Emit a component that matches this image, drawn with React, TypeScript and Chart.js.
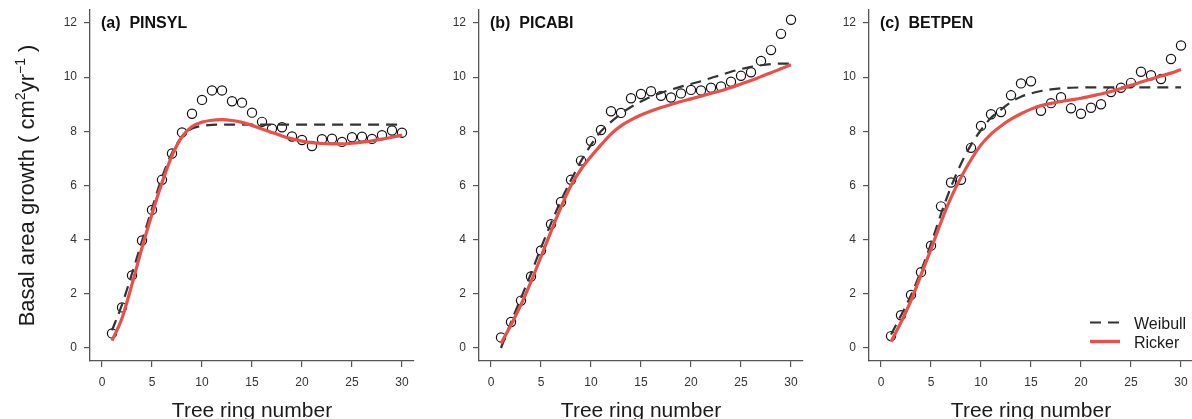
import React, { useEffect, useRef } from "react";
import { Chart, registerables } from "chart.js";

Chart.register(...registerables);

// ---------- data ----------
const rings = [1, 2, 3, 4, 5, 6, 7, 8, 9, 10, 11, 12, 13, 14, 15, 16, 17, 18, 19, 20, 21, 22, 23, 24, 25, 26, 27, 28, 29, 30];
const xTicks = [0, 5, 10, 15, 20, 25, 30];
const yTicks = [0, 2, 4, 6, 8, 10, 12];

const pinsylObserved = [0.54, 1.5, 2.68, 3.97, 5.1, 6.21, 7.18, 7.96, 8.65, 9.16, 9.51, 9.51, 9.11, 9.06, 8.69, 8.35, 8.1, 8.15, 7.81, 7.68, 7.46, 7.71, 7.73, 7.61, 7.78, 7.8, 7.72, 7.86, 8.03, 7.95];
const pinsylWeibull = [0.65, 1.6, 2.75, 3.95, 5.15, 6.3, 7.2, 7.8, 8.1, 8.2, 8.24, 8.25, 8.25, 8.25, 8.25, 8.25, 8.25, 8.25, 8.25, 8.25, 8.25, 8.25, 8.25, 8.25, 8.25, 8.25, 8.25, 8.25, 8.25, 8.25];
const pinsylRicker = [0.27, 1.1, 2.35, 3.7, 4.95, 6.1, 7.1, 7.8, 8.18, 8.34, 8.41, 8.43, 8.4, 8.33, 8.22, 8.09, 7.96, 7.83, 7.72, 7.64, 7.58, 7.55, 7.54, 7.54, 7.56, 7.6, 7.65, 7.71, 7.78, 7.86];

const picabiObserved = [0.39, 0.96, 1.75, 2.64, 3.6, 4.57, 5.39, 6.21, 6.92, 7.64, 8.05, 8.74, 8.68, 9.22, 9.38, 9.48, 9.31, 9.25, 9.4, 9.53, 9.51, 9.61, 9.66, 9.83, 10.05, 10.18, 10.6, 11.0, 11.6, 12.12];
const picabiWeibull = [0.0, 0.95, 1.85, 2.75, 3.7, 4.6, 5.45, 6.2, 6.9, 7.5, 8.0, 8.35, 8.65, 8.9, 9.1, 9.28, 9.42, 9.54, 9.65, 9.75, 9.85, 9.97, 10.08, 10.2, 10.3, 10.38, 10.44, 10.48, 10.5, 10.5];
const picabiRicker = [0.17, 0.85, 1.6, 2.45, 3.37, 4.3, 5.2, 6.0, 6.6, 7.07, 7.5, 7.9, 8.2, 8.42, 8.6, 8.75, 8.88, 8.99, 9.1, 9.2, 9.3, 9.4, 9.5, 9.62, 9.75, 9.88, 10.02, 10.16, 10.31, 10.46];

const betpenObserved = [0.44, 1.21, 1.96, 2.8, 3.78, 5.23, 6.11, 6.21, 7.39, 8.2, 8.63, 8.71, 9.33, 9.77, 9.85, 8.76, 9.04, 9.26, 8.85, 8.65, 8.87, 9.0, 9.45, 9.61, 9.79, 10.2, 10.07, 9.93, 10.67, 11.17];
const betpenWeibull = [0.5, 1.2, 1.95, 2.85, 3.85, 4.95, 5.95, 6.8, 7.5, 8.05, 8.5, 8.8, 9.08, 9.28, 9.4, 9.49, 9.55, 9.59, 9.61, 9.62, 9.62, 9.62, 9.62, 9.62, 9.62, 9.62, 9.62, 9.62, 9.62, 9.62];
const betpenRicker = [0.23, 0.95, 1.75, 2.7, 3.65, 4.65, 5.55, 6.3, 6.95, 7.5, 7.9, 8.2, 8.45, 8.65, 8.82, 8.95, 9.03, 9.1, 9.16, 9.22, 9.3, 9.38, 9.47, 9.58, 9.7, 9.82, 9.93, 10.04, 10.15, 10.28];

const panelTitles = ["(a)  PINSYL", "(b)  PICABI", "(c)  BETPEN"];
const xAxisTitle = "Tree ring number";
const yAxisTitleParts = ["Basal area growth ( cm", "2", "yr", "\u22121", " )"];
const legendLabels = ["Weibull", "Ricker"];

// ---------- styles ----------
const FONT = '"Liberation Sans", Arial, Helvetica, sans-serif';
const RED = "#E8504A";
const DARK = "#333333";
const AXIS = "#555555";
const CANVAS_W = 420;
const CANVAS_H = 419;

type PanelProps = {
  idx: number;
  left: number;
  observed: number[];
  weibull: number[];
  ricker: number[];
  showYTitle: boolean;
  showLegend: boolean;
};

function Panel({ idx, left, observed, weibull, ricker, showYTitle, showLegend }: PanelProps) {
  const ref = useRef<HTMLCanvasElement | null>(null);

  useEffect(() => {
    if (!ref.current) return;
    const textPlugin = {
      id: "panelText" + idx,
      afterDraw(chart: any) {
        const ctx = chart.ctx as CanvasRenderingContext2D;
        const area = chart.chartArea;
        ctx.save();
        ctx.fillStyle = "#111";
        // panel title
        ctx.font = `bold 16px ${FONT}`;
        ctx.textAlign = "left";
        ctx.textBaseline = "alphabetic";
        ctx.fillText(panelTitles[idx], area.left + 11, 28);
        // x axis title
        ctx.font = `21px ${FONT}`;
        ctx.textAlign = "center";
        ctx.fillStyle = "#1a1a1a";
        ctx.fillText(xAxisTitle, (area.left + area.right) / 2, 417);
        // y axis title
        if (showYTitle) {
          const big = `22px ${FONT}`;
          const small = `14px ${FONT}`;
          let total = 0;
          const widths: number[] = [];
          yAxisTitleParts.forEach((p, i) => {
            ctx.font = i === 1 || i === 3 ? small : big;
            const w = ctx.measureText(p).width;
            widths.push(w);
            total += w;
          });
          ctx.translate(34, (area.top + area.bottom) / 2);
          ctx.rotate(-Math.PI / 2);
          ctx.textAlign = "left";
          let x = -total / 2;
          yAxisTitleParts.forEach((p, i) => {
            const sup = i === 1 || i === 3;
            ctx.font = sup ? small : big;
            ctx.fillText(p, x, sup ? -9 : 0);
            x += widths[i];
          });
          ctx.setTransform(1, 0, 0, 1, 0, 0);
        }
        // legend
        if (showLegend) {
          const lx0 = 1090 - left;
          const lx1 = 1120 - left;
          ctx.lineCap = "butt";
          ctx.strokeStyle = DARK;
          ctx.lineWidth = 2.2;
          ctx.setLineDash([11, 7]);
          ctx.beginPath();
          ctx.moveTo(lx0, 322.5);
          ctx.lineTo(lx1, 322.5);
          ctx.stroke();
          ctx.setLineDash([]);
          ctx.strokeStyle = RED;
          ctx.lineWidth = 3.4;
          ctx.beginPath();
          ctx.moveTo(lx0, 341.5);
          ctx.lineTo(lx1, 341.5);
          ctx.stroke();
          ctx.font = `16px ${FONT}`;
          ctx.textAlign = "left";
          ctx.fillStyle = "#1a1a1a";
          ctx.fillText(legendLabels[0], 1134 - left, 328.5);
          ctx.fillText(legendLabels[1], 1134 - left, 347.5);
        }
        ctx.restore();
      },
    };

    const chart = new Chart(ref.current, {
      type: "line",
      data: {
        datasets: [
          {
            label: legendLabels[1],
            data: rings.map((x, i) => ({ x, y: ricker[i] })),
            borderColor: RED,
            borderWidth: 3.2,
            pointRadius: 0,
            cubicInterpolationMode: "monotone",
            fill: false,
          },
          {
            label: legendLabels[0],
            data: rings.map((x, i) => ({ x, y: weibull[i] })),
            borderColor: DARK,
            borderWidth: 2.2,
            borderDash: [11, 7],
            pointRadius: 0,
            cubicInterpolationMode: "monotone",
            fill: false,
          },
          {
            label: "Observed",
            data: rings.map((x, i) => ({ x, y: observed[i] })),
            showLine: false,
            pointRadius: 4.6,
            pointBorderWidth: 1.2,
            pointBorderColor: "#111",
            pointBackgroundColor: "rgba(255,255,255,0)",
          },
        ],
      } as any,
      options: {
        animation: false,
        responsive: false,
        events: [],
        layout: { padding: { left: 0, top: 10, right: 6, bottom: 0 } },
        plugins: {
          legend: { display: false },
          tooltip: { enabled: false },
          title: { display: false },
        },
        scales: {
          x: {
            type: "linear",
            min: -1.2,
            max: 31.2,
            afterBuildTicks: (s: any) => {
              s.ticks = xTicks.map((v) => ({ value: v }));
            },
            afterFit: (s: any) => {
              s.height = 58;
              s.paddingLeft = 0;
              s.paddingRight = 0;
            },
            grid: { display: true, drawOnChartArea: false, drawTicks: true, tickLength: 6, color: AXIS, lineWidth: 1.2 },
            border: { display: true, color: AXIS, width: 1.3 },
            ticks: { color: DARK, font: { family: FONT, size: 12 }, padding: 8, maxRotation: 0, autoSkip: false },
          },
          y: {
            type: "linear",
            min: -0.48,
            max: 12.48,
            afterBuildTicks: (s: any) => {
              s.ticks = yTicks.map((v) => ({ value: v }));
            },
            afterFit: (s: any) => {
              s.width = 90;
              s.paddingTop = 0;
              s.paddingBottom = 0;
            },
            grid: { display: true, drawOnChartArea: false, drawTicks: true, tickLength: 6, color: AXIS, lineWidth: 1.2 },
            border: { display: true, color: AXIS, width: 1.3 },
            ticks: { color: DARK, font: { family: FONT, size: 12 }, padding: 7, autoSkip: false },
          },
        },
      } as any,
      plugins: [textPlugin],
    });
    return () => chart.destroy();
  }, [idx, left, observed, weibull, ricker, showYTitle, showLegend]);

  return (
    <div style={{ position: "absolute", left, top: 0, width: CANVAS_W, height: CANVAS_H }}>
      <canvas ref={ref} width={CANVAS_W} height={CANVAS_H} style={{ display: "block" }} />
    </div>
  );
}

export default function App() {
  return (
    <div
      style={{
        position: "fixed",
        left: 0,
        top: 0,
        width: 1192,
        height: 419,
        overflow: "hidden",
        background: "#ffffff",
      }}
    >
      <Panel idx={0} left={0} observed={pinsylObserved} weibull={pinsylWeibull} ricker={pinsylRicker} showYTitle={true} showLegend={false} />
      <Panel idx={1} left={389} observed={picabiObserved} weibull={picabiWeibull} ricker={picabiRicker} showYTitle={false} showLegend={false} />
      <Panel idx={2} left={779} observed={betpenObserved} weibull={betpenWeibull} ricker={betpenRicker} showYTitle={false} showLegend={true} />
    </div>
  );
}
